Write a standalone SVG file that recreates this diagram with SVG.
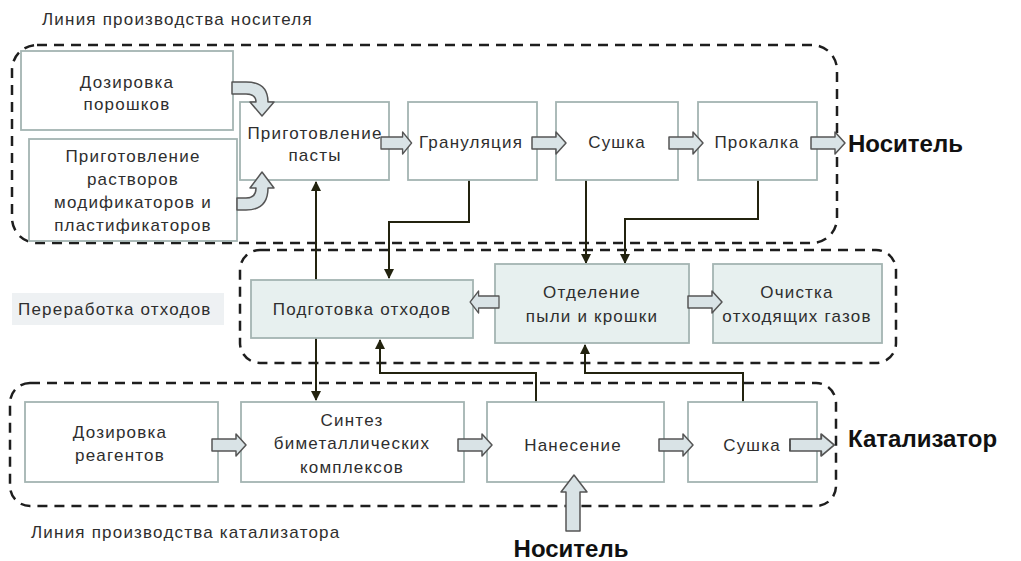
<svg xmlns="http://www.w3.org/2000/svg" xmlns:xlink="http://www.w3.org/1999/xlink" width="1021" height="561" viewBox="0 0 1021 561">
<style>
.grp{fill:none;stroke:#1e1e1e;stroke-width:2.5;stroke-dasharray:10 7}
.box{fill:#ffffff;stroke:#a4b4b2;stroke-width:1.8}
.wbox{fill:#e7f0ef;stroke:#a4b4b2;stroke-width:1.8}
.t{font-family:"Liberation Sans",Arial,sans-serif;font-size:17px;letter-spacing:1.2px;fill:#2e2e2e;text-anchor:middle}
.lbl{font-family:"Liberation Sans",Arial,sans-serif;font-size:17px;letter-spacing:1.2px;fill:#2e2e2e}
.big{font-family:"Liberation Sans",Arial,sans-serif;font-size:24px;font-weight:bold;fill:#111}
.ba{fill:#d9e3e6;stroke:#555;stroke-width:1.5;stroke-linejoin:round}
.con{fill:none;stroke:#23230f;stroke-width:2}
</style>
<defs>
<marker id="ah" viewBox="0 0 10 10" refX="9" refY="5" markerWidth="5" markerHeight="5" orient="auto-start-reverse" markerUnits="strokeWidth">
<path d="M0,0 L10,5 L0,10 Z" fill="#23230f"/>
</marker>
<path id="barrow" d="M0,-6 H24 V-11 L34,0 L24,11 V6 H0 Z"/>
</defs>

<rect x="0" y="0" width="1021" height="561" fill="#ffffff"/>

<!-- group frames -->
<g id="groups">
<rect class="grp" x="12" y="45" width="825" height="198" rx="25"/>
<rect class="grp" x="240" y="250" width="656" height="113" rx="20"/>
<rect class="grp" x="10" y="383" width="826" height="123" rx="20"/>
<text class="lbl" x="42" y="25">Линия производства носителя</text>
<rect x="12" y="293" width="212" height="32" fill="#eef1f3"/>
<text class="lbl" x="18" y="315" font-size="17.5" letter-spacing="1.4">Переработка отходов</text>
<text class="lbl" x="31" y="538">Линия производства катализатора</text>
</g>

<!-- connectors -->
<g id="connectors">
<path class="con" d="M316,182 V400" marker-start="url(#ah)" marker-end="url(#ah)"/>
<path class="con" d="M469,180 V222 H389 V278" marker-end="url(#ah)"/>
<path class="con" d="M586,180 V263" marker-end="url(#ah)"/>
<path class="con" d="M758,180 V219 H625 V263" marker-end="url(#ah)"/>
<path class="con" d="M536,402 V373 H380 V340" marker-end="url(#ah)"/>
<path class="con" d="M743,402 V373 H585 V345" marker-end="url(#ah)"/>
</g>

<!-- carrier line nodes -->
<g id="dozirovka-poroshkov">
<rect class="box" x="21" y="51" width="212" height="79"/>
<text class="t" x="127" y="88">Дозировка</text>
<text class="t" x="127" y="110">порошков</text>
</g>
<g id="prigotovlenie-rastvorov">
<rect class="box" x="29" y="139" width="208" height="102"/>
<text class="t" x="133" y="162">Приготовление</text>
<text class="t" x="133" y="185">растворов</text>
<text class="t" x="133" y="208">модификаторов и</text>
<text class="t" x="133" y="231">пластификаторов</text>
</g>
<g id="prigotovlenie-pasty">
<rect class="box" x="240" y="102" width="149" height="78"/>
<text class="t" x="315" y="139">Приготовление</text>
<text class="t" x="315" y="161">пасты</text>
</g>
<g id="granulyatsiya">
<rect class="box" x="408" y="102" width="129" height="78"/>
<text class="t" x="471" y="148">Грануляция</text>
</g>
<g id="sushka-1">
<rect class="box" x="556" y="102" width="122" height="78"/>
<text class="t" x="617" y="148">Сушка</text>
</g>
<g id="prokalka">
<rect class="box" x="698" y="102" width="119" height="78"/>
<text class="t" x="757" y="148">Прокалка</text>
</g>
<g id="nositel-out">
<text class="big" x="848" y="152">Носитель</text>
</g>

<!-- waste nodes -->
<g id="podgotovka-othodov">
<rect class="wbox" x="251" y="280" width="222" height="58"/>
<text class="t" x="362" y="315">Подготовка отходов</text>
</g>
<g id="otdelenie-pyli">
<rect class="wbox" x="495" y="264" width="194" height="79"/>
<text class="t" x="592" y="298">Отделение</text>
<text class="t" x="592" y="322">пыли и крошки</text>
</g>
<g id="ochistka-gazov">
<rect class="wbox" x="713" y="264" width="169" height="79"/>
<text class="t" x="797" y="298">Очистка</text>
<text class="t" x="797" y="322">отходящих газов</text>
</g>

<!-- catalyst line nodes -->
<g id="dozirovka-reagentov">
<rect class="box" x="25" y="402" width="193" height="80"/>
<text class="t" x="120" y="438">Дозировка</text>
<text class="t" x="120" y="461">реагентов</text>
</g>
<g id="sintez">
<rect class="box" x="241" y="402" width="223" height="80"/>
<text class="t" x="352" y="426">Синтез</text>
<text class="t" x="352" y="449">биметаллических</text>
<text class="t" x="352" y="473">комплексов</text>
</g>
<g id="nanesenie">
<rect class="box" x="487" y="402" width="177" height="80"/>
<text class="t" x="573" y="451">Нанесение</text>
</g>
<g id="sushka-2">
<rect class="box" x="688" y="402" width="129" height="80"/>
<text class="t" x="752" y="451">Сушка</text>
</g>
<g id="katalizator-out">
<text class="big" x="848" y="447" font-size="26">Катализатор</text>
</g>
<g id="nositel-in">
<text class="big" x="571" y="557" text-anchor="middle" font-size="23">Носитель</text>
</g>

<!-- block (process-flow) arrows -->
<g id="flow-arrows">
<path class="ba" d="M232,82 L246,82 Q268,82 268,102 L274,102 L262,116 L250,102 L256,102 Q256,94 246,94 L232,94 Z"/>
<path class="ba" d="M237,210 L246,210 Q268,210 268,188 L274,188 L262,172 L250,188 L256,188 Q256,198 246,198 L237,198 Z"/>
<use class="ba" xlink:href="#barrow" href="#barrow" transform="translate(381,143) scale(0.9,1)"/>
<use class="ba" xlink:href="#barrow" href="#barrow" transform="translate(532,143)"/>
<use class="ba" xlink:href="#barrow" href="#barrow" transform="translate(669,143)"/>
<use class="ba" xlink:href="#barrow" href="#barrow" transform="translate(811,143)"/>
<use class="ba" xlink:href="#barrow" href="#barrow" transform="translate(499,302) scale(-0.85,1)"/>
<use class="ba" xlink:href="#barrow" href="#barrow" transform="translate(688,302)"/>
<use class="ba" xlink:href="#barrow" href="#barrow" transform="translate(212,445)"/>
<use class="ba" xlink:href="#barrow" href="#barrow" transform="translate(458,445)"/>
<use class="ba" xlink:href="#barrow" href="#barrow" transform="translate(659,445)"/>
<use class="ba" xlink:href="#barrow" href="#barrow" transform="translate(790,445) scale(1.3,1)"/>
<path class="ba" d="M566,531 V492 H561 L574,475 L587,492 H580 V531 Z"/>
</g>
</svg>
